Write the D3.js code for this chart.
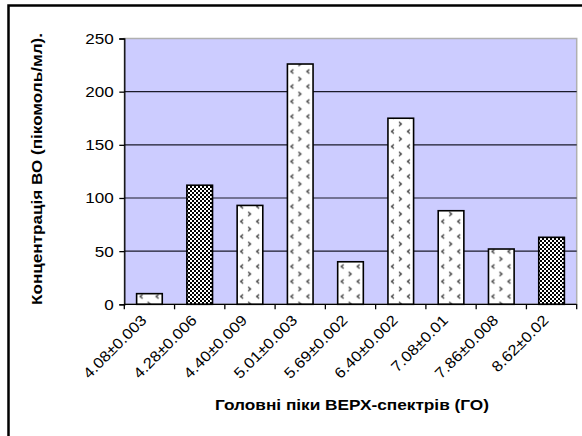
<!DOCTYPE html>
<html>
<head>
<meta charset="utf-8">
<script src="https://cdn.jsdelivr.net/npm/d3@7"></script>
<style>
  html, body { margin: 0; padding: 0; background: #fff; }
  svg { display: block; }
  text { font-family: "Liberation Sans", Arial, sans-serif; fill: #000; }
</style>
</head>
<body>
<svg id="chart" width="582" height="436"></svg>
<script>
// Peak positions (categories), concentrations and fill style per bar
const categories = ["4.08±0.003", "4.28±0.006", "4.40±0.009", "5.01±0.003", "5.69±0.002",
                    "6.40±0.002", "7.08±0.01", "7.86±0.008", "8.62±0.02"];
const values = [10, 112, 93, 226, 40, 175, 88, 52, 63];
const fills = ["dots", "checker", "dots", "dots", "dots", "dots", "dots", "dots", "checker"];
const yTicks = [0, 50, 100, 150, 200, 250];
const yTitle = "Концентрація ВО (пікомоль/мл).";
const xTitle = "Головні піки ВЕРХ-спектрів (ГО)";

const svg = d3.select("#chart");
const plot = { left: 124.3, right: 576.7, top: 38.5, bottom: 304.3 };

const x = d3.scaleBand().domain(categories).range([plot.left, plot.right]).paddingInner(0).paddingOuter(0);
const y = d3.scaleLinear().domain([0, 250]).range([plot.bottom, plot.top]);
const barW = x.bandwidth() * 0.51;

const defs = svg.append("defs");

// checkerboard fill
const chk = defs.append("pattern").attr("id", "checker")
  .attr("patternUnits", "userSpaceOnUse").attr("width", 4).attr("height", 4);
chk.append("rect").attr("width", 4).attr("height", 4).attr("fill", "#fff");
chk.append("rect").attr("width", 2).attr("height", 2).attr("fill", "#000");
chk.append("rect").attr("x", 2).attr("y", 2).attr("width", 2).attr("height", 2).attr("fill", "#000");

// small chevron fill, one pattern per bar so it starts at the bar's left edge
categories.forEach((c, i) => {
  const left = x(c) + (x.bandwidth() - barW) / 2;
  const p = defs.append("pattern").attr("id", "dots" + i)
    .attr("patternUnits", "userSpaceOnUse").attr("width", 16).attr("height", 15)
    .attr("patternTransform", `translate(${left},${plot.top})`);
  p.append("rect").attr("width", 16).attr("height", 15).attr("fill", "#fff");
  p.append("path").attr("d", "M6,1 L3.5,3 L6,5").attr("fill", "none").attr("stroke", "#333").attr("stroke-width", 1.2);
  p.append("path").attr("d", "M11,8.5 L13.5,10.5 L11,12.5").attr("fill", "none").attr("stroke", "#333").attr("stroke-width", 1.2);
});

// outer chart frame
svg.append("rect").attr("x", 8.5).attr("y", 5.5).attr("width", 620).attr("height", 500)
  .attr("fill", "none").attr("stroke", "#000").attr("stroke-width", 2.5);

// plot area
svg.append("rect").attr("x", plot.left).attr("y", plot.top)
  .attr("width", plot.right - plot.left).attr("height", plot.bottom - plot.top)
  .attr("fill", "#ccccff").attr("stroke", "#b0b0b0").attr("stroke-width", 1.5);

// gridlines
svg.append("g").selectAll("line").data(yTicks.filter(t => t > 0 && t < 250)).join("line")
  .attr("x1", plot.left).attr("x2", plot.right)
  .attr("y1", d => y(d)).attr("y2", d => y(d))
  .attr("stroke", "#1a1a2a").attr("stroke-width", 1.2);

// bars
svg.append("g").selectAll("rect").data(values).join("rect")
  .attr("x", (d, i) => x(categories[i]) + (x.bandwidth() - barW) / 2)
  .attr("y", d => y(d))
  .attr("width", barW)
  .attr("height", d => y(0) - y(d))
  .attr("fill", (d, i) => fills[i] === "checker" ? "url(#checker)" : `url(#dots${i})`)
  .attr("stroke", "#000").attr("stroke-width", 1.6);

// y axis
const yAxis = svg.append("g").attr("transform", `translate(${plot.left},0)`)
  .call(d3.axisLeft(y).tickValues(yTicks).tickSize(5).tickFormat(d3.format("d")));
yAxis.select(".domain").attr("stroke", "#000").attr("stroke-width", 1.3);
yAxis.selectAll(".tick line").attr("stroke", "#000").attr("stroke-width", 1.3);
yAxis.selectAll(".tick text")
  .attr("font-size", 14).attr("font-family", "Liberation Sans, Arial, sans-serif")
  .attr("x", null).attr("dy", null).attr("y", 5)
  .attr("transform", "translate(-10.5,0) scale(1.22,1)")
  .attr("text-anchor", "end");

// x axis with ticks at category boundaries
const xAxis = svg.append("g").attr("transform", `translate(0,${plot.bottom})`);
xAxis.append("line").attr("x1", plot.left).attr("x2", plot.right)
  .attr("stroke", "#000").attr("stroke-width", 1.3);
const bounds = categories.map(c => x(c)).concat([plot.right]);
xAxis.selectAll("line.tk").data(bounds).join("line").attr("class", "tk")
  .attr("x1", d => d).attr("x2", d => d).attr("y1", 0).attr("y2", 5)
  .attr("stroke", "#000").attr("stroke-width", 1.3);
xAxis.selectAll("text").data(categories).join("text")
  .attr("font-size", 15)
  .attr("text-anchor", "end")
  .attr("transform", d => `translate(${x(d) + x.bandwidth() / 2 - 2},${17}) rotate(-45) scale(1.1,1)`)
  .text(d => d);

// axis titles
svg.append("text")
  .attr("transform", "translate(42,169) rotate(-90)")
  .attr("text-anchor", "middle").attr("font-size", 14).attr("font-weight", "bold")
  .attr("textLength", 272).attr("lengthAdjust", "spacingAndGlyphs")
  .text(yTitle);
svg.append("text")
  .attr("x", 352).attr("y", 409.5)
  .attr("text-anchor", "middle").attr("font-size", 14).attr("font-weight", "bold")
  .attr("textLength", 274).attr("lengthAdjust", "spacingAndGlyphs")
  .text(xTitle);
</script>
</body>
</html>
